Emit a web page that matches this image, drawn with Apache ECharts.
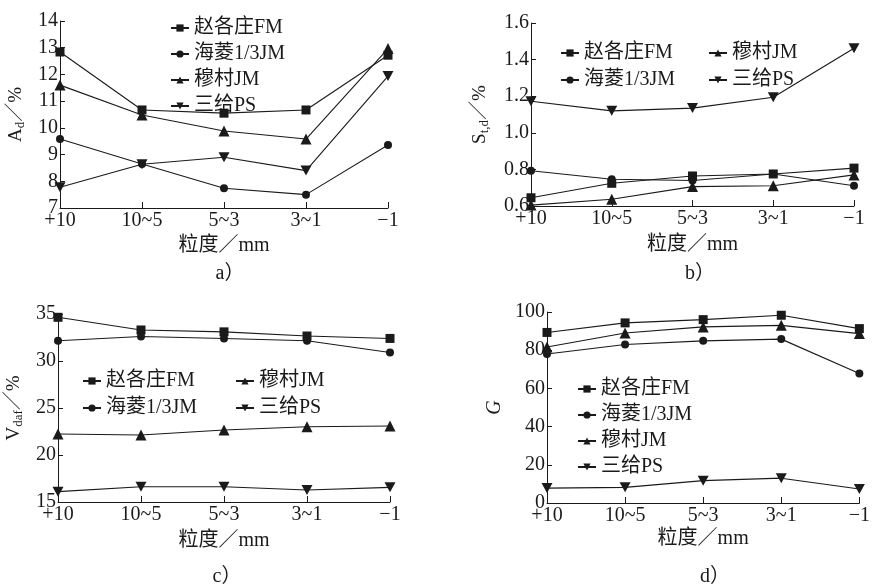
<!DOCTYPE html>
<html>
<head>
<meta charset="utf-8">
<script src="https://cdn.jsdelivr.net/npm/echarts@6/dist/echarts.min.js"></script>
<style>html,body{margin:0;padding:0;background:#fff;}#c{width:873px;height:586px;}</style>
</head>
<body>
<div id="c"></div>
<script>
// ---- data ----
const categories = ['+10', '10~5', '5~3', '3~1', '\u22121'];
const seriesNames = ['赵各庄FM', '海菱1/3JM', '穆村JM', '三给PS'];

const aFM = [12.84, 10.67, 10.55, 10.67, 12.72];
const aHL = [9.58, 8.65, 7.74, 7.50, 9.36];
const aMC = [11.60, 10.48, 9.88, 9.58, 12.97];
const aSG = [7.78, 8.64, 8.90, 8.40, 11.94];

const bFM = [0.645, 0.724, 0.764, 0.775, 0.807];
const bHL = [0.793, 0.746, 0.739, 0.775, 0.711];
const bMC = [0.605, 0.637, 0.706, 0.711, 0.770];
const bSG = [1.172, 1.120, 1.135, 1.194, 1.462];

const cFM = [34.65, 33.30, 33.10, 32.66, 32.40];
const cHL = [32.16, 32.60, 32.40, 32.16, 30.90];
const cMC = [22.23, 22.13, 22.66, 23.01, 23.09];
const cSG = [16.10, 16.63, 16.63, 16.28, 16.56];

const dFM = [89.3, 94.3, 96.0, 98.3, 91.3];
const dHL = [78.0, 83.0, 84.9, 85.8, 67.8];
const dMC = [81.7, 89.0, 92.2, 93.0, 88.7];
const dSG = [7.8, 8.2, 11.7, 13.0, 7.3];

const yTicksA = {min: 7, max: 14, interval: 1};
const yTicksB = {min: 0.6, max: 1.6, interval: 0.2};
const yTicksC = {min: 15, max: 35, interval: 5};
const yTicksD = {min: 0, max: 100, interval: 20};

// ---- styles ----
const FONT = "'Liberation Serif', 'Noto Sans CJK SC', serif";
const INK = '#1a1a1a';
const symbols = [
  {symbol: 'rect', size: 9},
  {symbol: 'circle', size: 8},
  {symbol: 'triangle', size: 11},
  {symbol: 'path://M0,0L10,0L5,9Z', size: [11, 10]}
];

const grids = [
  {left: 60, top: 21, width: 328, height: 187},
  {left: 531, top: 23, width: 323, height: 183},
  {left: 58, top: 314, width: 332, height: 188},
  {left: 547, top: 312, width: 319, height: 191}
];

const yNames = [
  '{n|A}{s|d}{n|／%}',
  '{n|S}{s|t,d}{n|／%}',
  '{n|V}{s|daf}{n|／%}',
  '{i|G}'
];
const yNameGaps = [33, 40, 33, 42];
const xNameGaps = [28, 29, 29, 26];
const yCfg = [yTicksA, yTicksB, yTicksC, yTicksD];
const panelData = [
  [aFM, aHL, aMC, aSG],
  [bFM, bHL, bMC, bSG],
  [cFM, cHL, cMC, cSG],
  [dFM, dHL, dMC, dSG]
];

const xAxis = grids.map((g, i) => ({
  type: 'category', gridIndex: i, data: categories, boundaryGap: false,
  name: '粒度／mm', nameLocation: 'middle', nameGap: xNameGaps[i],
  nameTextStyle: {fontFamily: FONT, fontSize: 20, color: INK},
  axisLine: {lineStyle: {color: INK, width: 1}},
  axisTick: {inside: true, length: 6, alignWithLabel: true, lineStyle: {color: INK}},
  axisLabel: {fontFamily: FONT, fontSize: 20, color: INK, margin: 3, interval: 0},
  splitLine: {show: false}
}));

const yAxis = grids.map((g, i) => ({
  type: 'value', gridIndex: i,
  min: yCfg[i].min, max: yCfg[i].max, interval: yCfg[i].interval,
  name: yNames[i], nameLocation: 'middle', nameGap: yNameGaps[i], nameRotate: 90,
  nameTextStyle: {
    fontFamily: FONT, fontSize: 19, color: INK,
    rich: {
      n: {fontFamily: FONT, fontSize: 19, color: INK},
      s: {fontFamily: FONT, fontSize: 13, color: INK, verticalAlign: 'bottom', padding: [8, 0, 0, 0]},
      i: {fontFamily: FONT, fontSize: 20, fontStyle: 'italic', color: INK}
    }
  },
  axisLine: {show: true, lineStyle: {color: INK, width: 1}},
  axisTick: {show: true, inside: true, length: 5, lineStyle: {color: INK}},
  axisLabel: {
    fontFamily: FONT, fontSize: 20, color: INK, margin: 2,
    formatter: i === 1 ? (v => v.toFixed(1)) : (v => String(Math.round(v)))
  },
  splitLine: {show: false}
}));

const series = [];
panelData.forEach((arrs, gi) => {
  arrs.forEach((vals, si) => {
    series.push({
      type: 'line', name: seriesNames[si], xAxisIndex: gi, yAxisIndex: gi,
      data: vals, symbol: symbols[si].symbol, symbolSize: symbols[si].size,
      showAllSymbol: true,
      lineStyle: {color: INK, width: 1.1},
      itemStyle: {color: INK, borderWidth: 0},
      emphasis: {disabled: true},
      animation: false, z: 3
    });
  });
});

const legendBase = {
  orient: 'vertical', itemWidth: 18, itemHeight: 9, itemGap: 6,
  textStyle: {fontFamily: FONT, fontSize: 20, color: INK, padding: [0, 0, 0, 0]},
  inactiveColor: INK, selectedMode: false
};
const legend = [
  Object.assign({}, legendBase, {left: 165, top: 13, data: seriesNames}),
  Object.assign({}, legendBase, {left: 555, top: 38, itemGap: 7, data: [seriesNames[0], seriesNames[1]]}),
  Object.assign({}, legendBase, {left: 703, top: 38, itemGap: 7, data: [seriesNames[2], seriesNames[3]]}),
  Object.assign({}, legendBase, {left: 77, top: 366, itemGap: 7, data: [seriesNames[0], seriesNames[1]]}),
  Object.assign({}, legendBase, {left: 230, top: 366, itemGap: 7, data: [seriesNames[2], seriesNames[3]]}),
  Object.assign({}, legendBase, {left: 572, top: 374, data: seriesNames})
];

const captions = [
  {text: 'a）', x: 230, y: 274},
  {text: 'b）', x: 700, y: 274},
  {text: 'c）', x: 227, y: 577},
  {text: 'd）', x: 715, y: 577}
];

const chart = echarts.init(document.getElementById('c'), null, {renderer: 'canvas'});
chart.setOption({
  backgroundColor: '#fff',
  animation: false,
  grid: grids,
  xAxis: xAxis,
  yAxis: yAxis,
  legend: legend,
  series: series,
  graphic: captions.map(c => ({
    type: 'text', x: c.x, y: c.y,
    style: {text: c.text, font: '20px ' + FONT, fill: INK, align: 'center', verticalAlign: 'middle'}
  }))
});
</script>
</body>
</html>
